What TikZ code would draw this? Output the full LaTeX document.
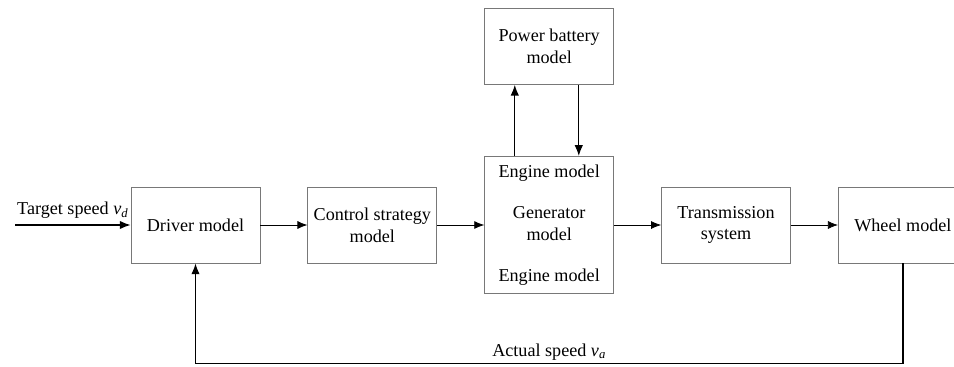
\documentclass[tikz,border=0pt]{standalone}
\usepackage{fontspec}
\setmainfont{Liberation Serif}
\usepackage{tikz}
\usetikzlibrary{arrows.meta,positioning}
\definecolor{boiteC}{RGB}{120,120,120}
\tikzset{
  bloc/.style={rectangle, draw=boiteC, line width=0.6pt, align=center,
               font=\fontsize{12.9}{15.5}\selectfont, inner sep=0pt,
               minimum width=3.225cm, minimum height=1.9cm},
  fl/.style={-{Latex[length=2.5mm,width=2mm]}, line width=0.5pt},
  flg/.style={-{Latex[length=2.7mm,width=2.1mm]}, line width=0.9pt},
  lbl/.style={font=\fontsize{12.9}{15.5}\selectfont, inner sep=2pt},
}

\begin{document}
\begin{tikzpicture}[node distance=1.175cm]
  \path[use as bounding box, clip] (0,0) rectangle (23.85,-9.15);
  \node[bloc] (pilote) at (4.8875,-5.625) {Driver model};
  \node[bloc, right=of pilote] (strat) {Control strategy\\model};
  \node[bloc, right=of strat, minimum height=3.43cm] (moteur)
    {Engine model\\[0.475cm]Generator\\model\\[0.475cm]Engine model};
  \node[bloc, right=of moteur] (trans) {Transmission\\system};
  \node[bloc, right=of trans] (roue) {Wheel model};
  \node[bloc, above=1.78cm of moteur] (batt) {Power battery\\model};
  \coordinate (entree) at (0.375,-5.625);
  % signal direct
  \draw[flg] (entree) -- (pilote.west)
    node[lbl, midway, above, inner sep=4pt] {Target speed \textit{v}\textsubscript{\textit{d}}};
  \draw[fl] (pilote) -- (strat);
  \draw[fl] (strat) -- (moteur);
  \draw[fl] (moteur) -- (trans);
  \draw[fl] (trans) -- (roue);
  % echange batterie
  \draw[flg] ([xshift=-0.86cm]moteur.north) -- ([xshift=-0.86cm]batt.south);
  \draw[flg] ([xshift=0.74cm]batt.south) -- ([xshift=0.74cm]moteur.north);
  % retour vitesse
  \draw[flg] (roue.south) -- ++(0,-2.5) -| (pilote.south)
    node[lbl, pos=0.25, above] {Actual speed \textit{v}\textsubscript{\textit{a}}};
\end{tikzpicture}
\end{document}
